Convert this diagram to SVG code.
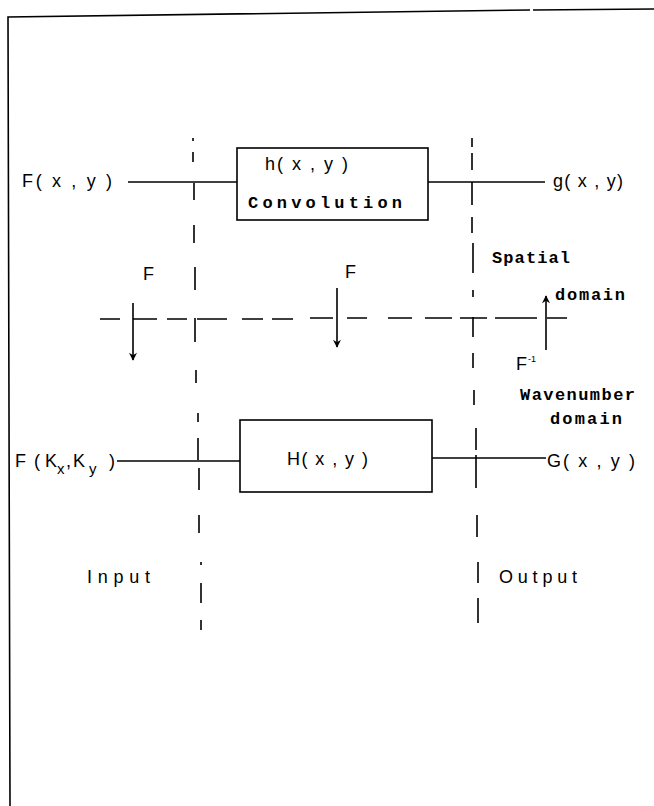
<svg xmlns="http://www.w3.org/2000/svg" width="654" height="806" viewBox="0 0 654 806">
<style>
.ln{stroke:#000;stroke-width:1.6;fill:none;stroke-linecap:butt}
.dash{stroke:#000;stroke-width:1.6;fill:none}
.box{stroke:#000;stroke-width:1.6;fill:none}
.t{font-family:"Liberation Sans",Arial,sans-serif;font-size:18px;fill:#000}
.m{font-family:"Liberation Mono","DejaVu Sans Mono",monospace;font-weight:bold;font-size:17px;fill:#000}
</style>
<defs>
<marker id="ah" viewBox="0 0 10 10" refX="9" refY="5" markerWidth="9" markerHeight="8" markerUnits="userSpaceOnUse" orient="auto">
<path d="M0,0 L10,5 L0,10 L3,5 Z" fill="#000"/>
</marker>
</defs>
<rect x="0" y="0" width="654" height="806" fill="#fff"/>
<path class="ln" d="M10,806 L8,17 L530,10 M533,10 L654,9"/>

<g id="connectors">
<line class="ln" x1="128" y1="182" x2="237" y2="182"/>
<line class="ln" x1="428" y1="182" x2="545" y2="182"/>
<line class="ln" x1="117" y1="461" x2="240" y2="461"/>
<line class="ln" x1="432" y1="458" x2="546" y2="458"/>
<path class="dash" d="M193,138 L193,141 M193,152 L193,162 M194,183 L194,200 M194,225 L194,243 M195,267 L195,290 M195,318 L195,342 M196,370 L196,383 M198,413 L198,422 M198,438 L198,460 M199,468 L199,490 M199,515 L199,533 M201,562 L201,565 M201,583 L201,603 M201,620 L201,630"/>
<path class="dash" d="M472,138 L472,147 M472,153 L472,170 M472,182 L472,205 M472,217 L472,233 M473,243 L473,273 M473,290 L473,297 M473,317 L473,337 M473,353 L473,368 M474,390 L474,405 M476,428 L476,450 M476,455 L476,488 M477,515 L477,537 M478,562 L478,583 M478,598 L478,623"/>
<path class="dash" d="M100,319 L120,319 M133,319 L157,319 M167,319 L187,319 M197,319 L227,319 M242,319 L263,319 M272,319 L293,319 M310,318 L333,318 M347,318 L367,318 M388,318 L412,318 M425,318 L452,318 M460,318 L487,318 M495,318 L537,318 M547,318 L567,318"/>
<line class="ln" x1="133" y1="303" x2="133" y2="360" marker-end="url(#ah)"/>
<line class="ln" x1="337" y1="288" x2="337" y2="347" marker-end="url(#ah)"/>
<line class="ln" x1="546" y1="350" x2="546" y2="296" marker-end="url(#ah)"/>
</g>

<g id="node-h">
<rect class="box" x="237" y="148" width="191" height="72"/>
<text class="t" x="265" y="170" textLength="83" lengthAdjust="spacing">h( x , y )</text>
<text class="m" x="248" y="208" textLength="154" lengthAdjust="spacing">Convolution</text>
</g>

<g id="node-H">
<rect class="box" x="240" y="420" width="192" height="72"/>
<text class="t" x="287" y="465" textLength="81" lengthAdjust="spacing">H( x , y )</text>
</g>

<g id="node-in-spatial">
<text class="t" x="22" y="187" textLength="90" lengthAdjust="spacing">F( x , y )</text>
</g>
<g id="node-out-spatial">
<text class="t" x="553" y="187" textLength="70" lengthAdjust="spacing">g( x , y)</text>
</g>
<g id="node-in-wave">
<text class="t" x="15" y="467">F<tspan x="34">(</tspan><tspan x="45">K</tspan><tspan x="57" y="474" font-size="15">x</tspan><tspan x="66" y="467">,</tspan><tspan x="73">K</tspan><tspan x="89" y="474" font-size="15">y</tspan><tspan x="109" y="467">)</tspan></text>
</g>
<g id="node-out-wave">
<text class="t" x="547" y="467" textLength="88" lengthAdjust="spacing">G( x , y )</text>
</g>

<g id="labels">
<text class="t" x="516" y="370" font-size="15">F<tspan dx="1" dy="-8" font-size="9">-1</tspan></text>
<text class="t" x="143" y="280">F</text>
<text class="t" x="345" y="278">F</text>
<text class="m" x="492" y="263" textLength="78" lengthAdjust="spacing">Spatial</text>
<text class="m" x="555" y="300" textLength="70" lengthAdjust="spacing">domain</text>
<text class="m" x="520" y="400" textLength="115" lengthAdjust="spacing">Wavenumber</text>
<text class="m" x="550" y="424" textLength="72" lengthAdjust="spacing">domain</text>
<text class="t" x="87" y="583" textLength="63" lengthAdjust="spacing">Input</text>
<text class="t" x="499" y="583" textLength="78" lengthAdjust="spacing">Output</text>
</g>
</svg>
